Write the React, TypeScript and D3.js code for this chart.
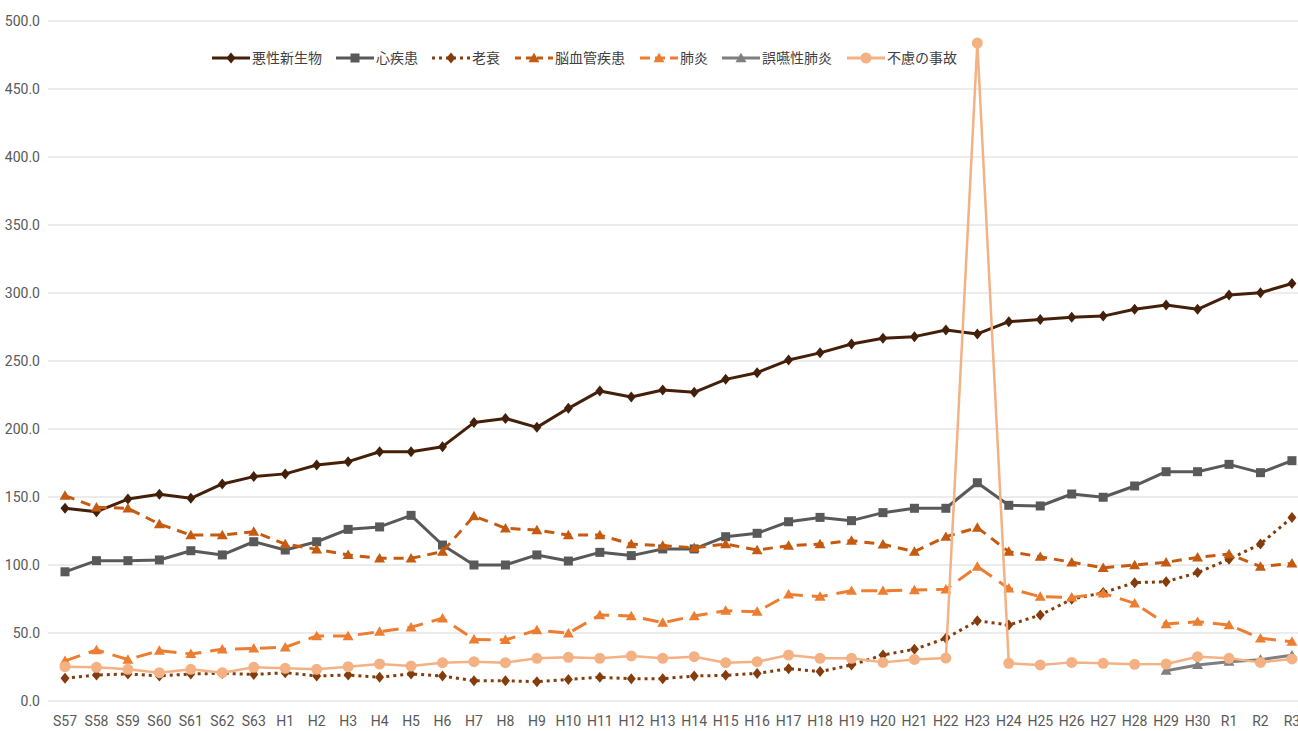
import React from 'react';
import * as d3 from 'd3';

// 年度ラベル
const years = ['S57','S58','S59','S60','S61','S62','S63',
  'H1','H2','H3','H4','H5','H6','H7','H8','H9','H10','H11','H12','H13','H14','H15','H16','H17','H18','H19','H20',
  'H21','H22','H23','H24','H25','H26','H27','H28','H29','H30','R1','R2','R3'];

const akusei = [141.7,139.2,148.5,152,149,159.6,165,167,173.5,176,183.3,183.3,187,204.7,207.8,201.2,215.2,228,223.5,228.7,227,236.5,241.4,250.7,256,262.5,266.7,267.9,272.8,269.9,278.9,280.6,282.1,283,288,291.2,288,298.5,300.2,307];
const shinshikkan = [95,103.2,103.2,103.7,110.5,107.4,117.1,111,117.1,126.2,128,136.5,114.7,100,100,107.4,102.9,109.3,106.9,111.8,111.8,120.8,123.3,131.8,135,132.6,138.5,141.7,141.7,160.5,143.9,143.4,152.2,149.8,158.1,168.6,168.6,174,167.9,176.7];
const rousui = [16.7,19.1,19.9,18.4,19.9,20.3,19.5,20.8,18.4,19.1,17.4,19.9,18.4,14.9,14.9,14.2,15.9,17.4,16.4,16.4,18.4,18.9,20.3,23.8,21.6,26.5,33.8,38,46.1,59,55.9,63.2,74.8,79.7,87,87.7,94.4,104.2,115.4,135];
const noukekkan = [151,142.4,141.7,130.1,122,122,124.5,115.4,111.5,107.4,104.9,104.9,109.8,136,127,125.7,122,122,115.4,114.2,112.7,115.4,111,114.2,115.4,117.9,115.2,109.8,120.8,127.5,109.8,106.1,102,98,100,102,105.6,108.1,98.8,101.2];
const haien = [29.5,37.5,30.5,37,34.6,38,38.7,39.5,47.8,47.8,51,54.2,60.8,45.3,44.9,52.2,49.8,63.2,62.5,57.6,62.5,66.4,65.7,78.4,76.7,81.1,81.1,81.6,82.1,98.8,82.8,76.7,76.2,79.2,71.8,56.6,58.3,55.9,46.1,43.6];
const goen: (number | null)[] = [null,null,null,null,null,null,null,null,null,null,null,null,null,null,null,null,null,null,null,null,null,null,null,null,null,null,null,null,null,null,null,null,null,null,null,22.3,26.5,28.9,30.4,33.6];
const furyo = [25.2,24.8,23.3,20.8,23.3,20.8,24.8,24,23.3,25.2,27.2,25.7,28.2,28.9,28.2,31.4,32.1,31.4,33.1,31.4,32.6,28.2,28.9,33.8,31.4,31.4,28.4,30.6,31.6,483.8,27.7,26.5,28.4,27.7,27,27.2,32.6,31.4,28.4,30.9];

const yTicks = [0,50,100,150,200,250,300,350,400,450,500];

type Series = { name: string; values: (number | null)[]; color: string; marker: string; dash: string | null; width: number };

const series: Series[] = [
  { name: '悪性新生物', values: akusei, color: '#44200a', marker: 'diamond', dash: null, width: 3 },
  { name: '心疾患', values: shinshikkan, color: '#595959', marker: 'square', dash: null, width: 3 },
  { name: '老衰', values: rousui, color: '#843c0c', marker: 'diamond', dash: '3 4', width: 3 },
  { name: '脳血管疾患', values: noukekkan, color: '#c55a11', marker: 'triangle', dash: '10 7', width: 3 },
  { name: '肺炎', values: haien, color: '#ed7d31', marker: 'triangle', dash: '16 9', width: 3 },
  { name: '誤嚥性肺炎', values: goen, color: '#7f7f7f', marker: 'triangle', dash: null, width: 3 },
  { name: '不慮の事故', values: furyo, color: '#f4b183', marker: 'circle', dash: null, width: 2.5 },
];

const FONT = '"Noto Sans CJK JP", "Noto Sans", sans-serif';
const TICK_FONT = '"Liberation Sans Narrow", "Roboto", sans-serif';

function Marker({ type, x, y, color }: { type: string; x: number; y: number; color: string }) {
  if (type === 'diamond') {
    return <path d={`M${x},${y - 5.5}L${x + 4.5},${y}L${x},${y + 5.5}L${x - 4.5},${y}Z`} fill={color} />;
  }
  if (type === 'square') {
    return <rect x={x - 4.5} y={y - 4.5} width={9} height={9} fill={color} />;
  }
  if (type === 'triangle') {
    const p = d3.symbol().type(d3.symbolTriangle).size(52)();
    return <path d={p || ''} transform={`translate(${x},${y + 1})`} fill={color} />;
  }
  return <circle cx={x} cy={y} r={5.5} fill={color} />;
}

export default function App() {
  const width = 1298;
  const height = 731;

  const x = d3.scalePoint<string>().domain(years).range([65, 65 + 39 * 31.46]);
  const y = d3.scaleLinear().domain([0, 500]).range([701, 21]);

  const line = d3.line<number | null>()
    .defined((d) => d !== null)
    .x((_, i) => x(years[i]) as number)
    .y((d) => y(d as number));

  const legendItems = [
    { x: 212, tx: 252 },
    { x: 336, tx: 376 },
    { x: 432, tx: 472 },
    { x: 515, tx: 555 },
    { x: 640, tx: 680 },
    { x: 722, tx: 762 },
    { x: 847, tx: 887 },
  ];

  return (
    <svg width={width} height={height} style={{ position: 'fixed', left: 0, top: 0, background: '#fff' }} fontFamily={FONT}>
      {yTicks.map((t) => (
        <g key={t}>
          <line x1={48} x2={1310} y1={y(t)} y2={y(t)} stroke="#d9d9d9" strokeWidth={1} />
          <text x={40} y={y(t)} dy="0.35em" textAnchor="end" fontSize={14} fill="#595959" fontFamily={TICK_FONT}>{t.toFixed(1)}</text>
        </g>
      ))}
      {years.map((yr) => (
        <text key={yr} x={x(yr)} y={721} dy="0.35em" textAnchor="middle" fontSize={14} fill="#595959" fontFamily={TICK_FONT}>{yr}</text>
      ))}

      {series.map((s) => (
        <g key={s.name}>
          <path d={line(s.values) || ''} fill="none" stroke={s.color} strokeWidth={s.width}
            strokeDasharray={s.dash || undefined} strokeLinejoin="round" />
          {s.values.map((v, i) => v === null ? null : (
            <Marker key={i} type={s.marker} x={x(years[i]) as number} y={y(v)} color={s.color} />
          ))}
        </g>
      ))}

      {series.map((s, i) => {
        const it = legendItems[i];
        const ly = 58;
        return (
          <g key={'lg' + s.name}>
            <line x1={it.x} x2={it.x + 38} y1={ly} y2={ly} stroke={s.color} strokeWidth={3}
              strokeDasharray={s.dash ? (s.marker === 'diamond' ? '3 4' : s.name === '肺炎' ? '10 5' : '6 5') : undefined} />
            <Marker type={s.marker} x={it.x + 19} y={ly} color={s.color} />
            <text x={it.tx} y={ly} dy="0.35em" fontSize={14} fill="#404040">{s.name}</text>
          </g>
        );
      })}
    </svg>
  );
}
